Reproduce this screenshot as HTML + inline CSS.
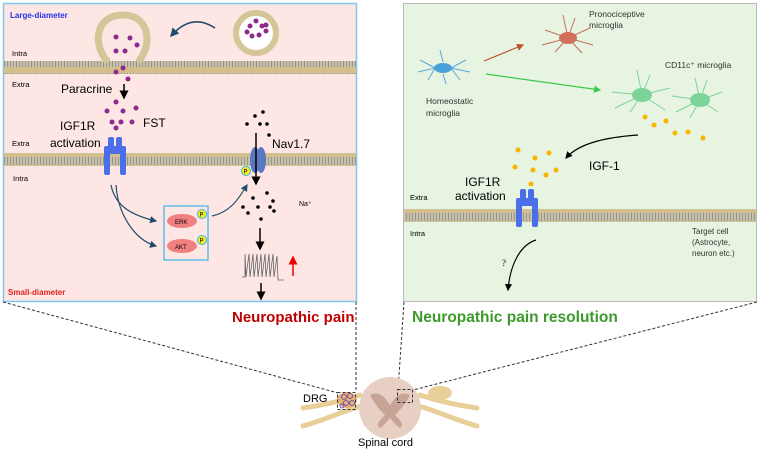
<!DOCTYPE html>
<html><head><meta charset="utf-8"><style>
html,body{margin:0;padding:0;background:#fff;}
svg{display:block;font-family:"Liberation Sans",sans-serif;}
</style></head><body>
<svg width="760" height="451" viewBox="0 0 760 451" xmlns="http://www.w3.org/2000/svg">
<defs>
<pattern id="mem" width="3" height="14" patternUnits="userSpaceOnUse">
<rect width="3" height="14" fill="#c9c2a8"/>
<circle cx="1.5" cy="1.5" r="1.4" fill="#d8bf80"/>
<circle cx="1.5" cy="12.5" r="1.4" fill="#d8bf80"/>
<line x1="1.5" y1="3" x2="1.5" y2="11" stroke="#8a8a8a" stroke-width="0.8"/>
</pattern>
<marker id="ab" markerWidth="6" markerHeight="6" refX="5" refY="3" orient="auto"><path d="M0,0 L6,3 L0,6z" fill="#000"/></marker>
<marker id="at" markerWidth="6" markerHeight="6" refX="5" refY="3" orient="auto"><path d="M0,0 L6,3 L0,6z" fill="#1f4e6b"/></marker>
<marker id="ar" markerWidth="6" markerHeight="6" refX="5" refY="3" orient="auto"><path d="M0,0 L6,3 L0,6z" fill="#c0502a"/></marker>
<marker id="ag" markerWidth="6" markerHeight="6" refX="5" refY="3" orient="auto"><path d="M0,0 L6,3 L0,6z" fill="#3ec84a"/></marker>
<marker id="rr" markerWidth="6" markerHeight="6" refX="5" refY="3" orient="auto"><path d="M0,0 L6,3 L0,6z" fill="#e00"/></marker>
</defs>

<rect x="3.5" y="3.5" width="353" height="298" fill="#fde6e4" stroke="#7cc8ee" stroke-width="1.5"/>
<rect x="4" y="61" width="352" height="13" fill="url(#mem)"/>
<rect x="4" y="153" width="352" height="13" fill="url(#mem)"/>
<text x="10" y="18" font-size="8" font-weight="bold" fill="#2233ee">Large-diameter</text>
<text x="8" y="295" font-size="8" font-weight="bold" fill="#e02020">Small-diameter</text>
<text x="12" y="56" font-size="7.5">Intra</text>
<text x="12" y="87" font-size="7.5">Extra</text>
<text x="12" y="146" font-size="7.5">Extra</text>
<text x="13" y="181" font-size="7.5">Intra</text>
<path d="M108,62 C92,45 95,15 123,15 C150,15 153,45 138,62" fill="none" stroke="#d4c698" stroke-width="7"/>
<circle cx="256" cy="33" r="20" fill="#fff" stroke="#d4c698" stroke-width="6"/>
<g fill="#8e2a8e">
<circle cx="250" cy="26" r="2.5"/><circle cx="256" cy="21" r="2.5"/><circle cx="262" cy="26" r="2.5"/><circle cx="266" cy="31" r="2.5"/><circle cx="247" cy="32" r="2.5"/><circle cx="252" cy="36" r="2.5"/><circle cx="259" cy="35" r="2.5"/><circle cx="266" cy="25" r="2.5"/>
<circle cx="116" cy="37" r="2.5"/><circle cx="130" cy="38" r="2.5"/><circle cx="137" cy="45" r="2.5"/><circle cx="116" cy="51" r="2.5"/><circle cx="125" cy="51" r="2.5"/><circle cx="116" cy="72" r="2.5"/><circle cx="123" cy="68" r="2.5"/><circle cx="128" cy="79" r="2.5"/>
<circle cx="116" cy="102" r="2.5"/><circle cx="107" cy="111" r="2.5"/><circle cx="123" cy="111" r="2.5"/><circle cx="136" cy="108" r="2.5"/><circle cx="112" cy="122" r="2.5"/><circle cx="121" cy="122" r="2.5"/><circle cx="132" cy="122" r="2.5"/><circle cx="116" cy="128" r="2.5"/>
</g>
<path d="M215,28 C200,18 185,20 171,36" fill="none" stroke="#1f4e6b" stroke-width="1.5" marker-end="url(#at)"/>
<text x="61" y="93" font-size="12">Paracrine</text>
<line x1="124" y1="84" x2="124" y2="98" stroke="#000" stroke-width="1.5" marker-end="url(#ab)"/>
<text x="143" y="127" font-size="12">FST</text>
<text x="60" y="130" font-size="12">IGF1R</text>
<text x="50" y="147" font-size="12">activation</text>
<g fill="#4a6fe8">
<rect x="108" y="137" width="6" height="15" rx="2"/><rect x="116" y="137" width="6" height="15" rx="2"/>
<rect x="104" y="146" width="22" height="8" rx="2"/>
<rect x="104" y="150" width="6" height="25" rx="2"/><rect x="120" y="150" width="6" height="25" rx="2"/>
</g>
<path d="M111,185 C115,205 130,215 156,221" fill="none" stroke="#1f4e6b" stroke-width="1.2" marker-end="url(#at)"/>
<path d="M116,185 C118,215 135,240 156,246" fill="none" stroke="#1f4e6b" stroke-width="1.2" marker-end="url(#at)"/>
<rect x="164" y="206" width="44" height="54" fill="none" stroke="#39b5ea" stroke-width="1.2"/>
<ellipse cx="182" cy="221" rx="15" ry="7" fill="#f08080"/>
<ellipse cx="182" cy="246" rx="15" ry="7" fill="#f08080"/>
<text x="175" y="224" font-size="6">ERK</text>
<text x="175" y="249" font-size="6">AKT</text>
<circle cx="202" cy="214" r="4.5" fill="#f2ee20" stroke="#39b5ea"/><text x="199.5" y="216.5" font-size="6">P</text>
<circle cx="202" cy="240" r="4.5" fill="#f2ee20" stroke="#39b5ea"/><text x="199.5" y="242.5" font-size="6">P</text>
<path d="M212,216 C230,212 238,200 247,185" fill="none" stroke="#1f4e6b" stroke-width="1.2" marker-end="url(#at)"/>
<ellipse cx="255" cy="160" rx="5" ry="13" fill="#5a78c0"/><ellipse cx="261" cy="160" rx="5" ry="13" fill="#5a78c0"/>
<circle cx="246" cy="171" r="4.5" fill="#f2ee20" stroke="#39b5ea"/><text x="243.5" y="173.5" font-size="6">P</text>
<text x="272" y="148" font-size="12">Nav1.7</text>
<line x1="256" y1="133" x2="256" y2="184" stroke="#000" stroke-width="1.5" marker-end="url(#ab)"/>
<g fill="#000">
<circle cx="255" cy="116" r="1.8"/><circle cx="263" cy="112" r="1.8"/><circle cx="247" cy="124" r="1.8"/><circle cx="260" cy="124" r="1.8"/><circle cx="267" cy="124" r="1.8"/><circle cx="269" cy="135" r="1.8"/>
<circle cx="253" cy="198" r="1.8"/><circle cx="267" cy="193" r="1.8"/><circle cx="273" cy="201" r="1.8"/><circle cx="243" cy="207" r="1.8"/><circle cx="258" cy="207" r="1.8"/><circle cx="270" cy="207" r="1.8"/><circle cx="274" cy="211" r="1.8"/><circle cx="261" cy="219" r="1.8"/><circle cx="248" cy="213" r="1.8"/>
</g>
<text x="299" y="206" font-size="7">Na⁺</text>
<line x1="260" y1="228" x2="260" y2="249" stroke="#000" stroke-width="1.5" marker-end="url(#ab)"/>
<path d="M242,277 L245,277 L245,254 L246,277 L249,254 L250,277 L253,254 L254,277 L257,254 L258,277 L261,254 L262,277 L265,254 L266,277 L269,254 L270,277 L273,254 L274,277 L277,256 L278,280 L284,280" fill="none" stroke="#666" stroke-width="0.8"/>
<line x1="293" y1="276" x2="293" y2="257" stroke="#e00" stroke-width="1.5" marker-end="url(#rr)"/>
<line x1="261" y1="283" x2="261" y2="299" stroke="#000" stroke-width="1.5" marker-end="url(#ab)"/>

<rect x="403.5" y="3.5" width="353" height="298" fill="#e6f4e1" stroke="#bbbbbb" stroke-width="1"/>
<rect x="404" y="209" width="352" height="13" fill="url(#mem)"/>
<text x="410" y="200" font-size="7.5">Extra</text>
<text x="410" y="236" font-size="7.5">Intra</text>
<g stroke="#5aa8d8" stroke-width="1" fill="none">
<path d="M435,68 L420,60 M435,68 L418,72 M435,68 L428,80 M451,68 L466,60 M451,68 L470,72 M451,68 L460,80 M443,62 L440,50 M443,74 L446,84"/></g>
<ellipse cx="443" cy="68" rx="9" ry="5" fill="#4aa0d8"/>
<g stroke="#c8705a" stroke-width="1" fill="none">
<path d="M568,38 L545,30 M568,38 L542,45 M568,38 L555,52 M568,38 L590,28 M568,38 L593,45 M568,38 L582,53 M568,38 L563,15 M568,38 L575,18"/></g>
<ellipse cx="568" cy="38" rx="9" ry="6" fill="#d0705a"/>
<g stroke="#7cd49a" stroke-width="1" fill="none">
<path d="M642,95 L612,92 M642,95 L615,108 M642,95 L630,112 M642,95 L670,88 M642,95 L665,110 M642,95 L637,70 M642,95 L650,75 M700,100 L672,96 M700,100 L676,112 M700,100 L690,118 M700,100 L722,92 M700,100 L718,112 M700,100 L695,78 M700,100 L707,80"/></g>
<ellipse cx="642" cy="95" rx="10" ry="7" fill="#7cd49a"/><ellipse cx="700" cy="100" rx="10" ry="7" fill="#7cd49a"/>
<line x1="484" y1="61" x2="523" y2="45" stroke="#c0502a" stroke-width="1.2" marker-end="url(#ar)"/>
<line x1="486" y1="74" x2="600" y2="90" stroke="#3ec84a" stroke-width="1.2" marker-end="url(#ag)"/>
<text x="589" y="17" font-size="8.5" fill="#333">Pronociceptive</text>
<text x="589" y="28" font-size="8.5" fill="#333">microglia</text>
<text x="665" y="68" font-size="8.5" fill="#333">CD11c⁺ microglia</text>
<text x="426" y="104" font-size="8.5" fill="#333">Homeostatic</text>
<text x="426" y="116" font-size="8.5" fill="#333">microglia</text>
<g fill="#f8b400">
<circle cx="645" cy="117" r="2.5"/><circle cx="654" cy="125" r="2.5"/><circle cx="666" cy="121" r="2.5"/><circle cx="675" cy="133" r="2.5"/><circle cx="688" cy="132" r="2.5"/><circle cx="703" cy="138" r="2.5"/>
<circle cx="518" cy="150" r="2.5"/><circle cx="535" cy="158" r="2.5"/><circle cx="549" cy="153" r="2.5"/><circle cx="515" cy="167" r="2.5"/><circle cx="533" cy="170" r="2.5"/><circle cx="546" cy="175" r="2.5"/><circle cx="556" cy="170" r="2.5"/><circle cx="531" cy="184" r="2.5"/>
</g>
<path d="M638,135 C610,137 580,142 566,158" fill="none" stroke="#000" stroke-width="1.2" marker-end="url(#ab)"/>
<text x="589" y="170" font-size="12">IGF-1</text>
<text x="465" y="186" font-size="12">IGF1R</text>
<text x="455" y="200" font-size="12">activation</text>
<g fill="#4a6fe8">
<rect x="520" y="189" width="6" height="15" rx="2"/><rect x="528" y="189" width="6" height="15" rx="2"/>
<rect x="516" y="198" width="22" height="8" rx="2"/>
<rect x="516" y="202" width="6" height="25" rx="2"/><rect x="532" y="202" width="6" height="25" rx="2"/>
</g>
<text x="692" y="234" font-size="8" fill="#333">Target cell</text>
<text x="692" y="245" font-size="8" fill="#333">(Astrocyte,</text>
<text x="692" y="256" font-size="8" fill="#333">neuron etc.)</text>
<path d="M536,240 C520,245 510,265 508,290" fill="none" stroke="#000" stroke-width="1.2" marker-end="url(#ab)"/>
<text x="502" y="266" font-size="9" font-family="Liberation Serif,serif">?</text>

<text x="232" y="322" font-size="15" font-weight="bold" fill="#c00000">Neuropathic pain</text>
<text x="412" y="322" font-size="15.5" font-weight="bold" fill="#3b9a2a">Neuropathic pain resolution</text>

<g stroke="#333" stroke-width="1" stroke-dasharray="3,2" fill="none">
<line x1="3" y1="302" x2="338" y2="393"/>
<line x1="356" y1="302" x2="356" y2="392"/>
<line x1="404" y1="302" x2="398" y2="390"/>
<line x1="757" y1="302" x2="413" y2="390"/>
</g>
<g stroke="#e8cf98" stroke-width="5" fill="none" stroke-linecap="round">
<path d="M303,408 C325,405 345,400 360,395 M303,426 C325,420 345,410 365,405"/>
<path d="M477,408 C455,405 435,400 420,395 M477,426 C455,420 435,410 415,405"/>
</g>
<ellipse cx="347" cy="400" rx="10" ry="8" fill="#e8b070"/>
<ellipse cx="440" cy="393" rx="12" ry="7" fill="#e8cf98"/>
<circle cx="390" cy="408" r="31" fill="#e8cfc4"/>
<path d="M370,395 C380,390 385,398 390,405 C395,398 400,390 410,395 C405,405 400,410 395,415 C400,420 405,425 400,428 C395,425 392,420 390,418 C388,420 385,425 380,428 C375,425 380,420 385,415 C380,410 375,405 370,395z" fill="#c8a496"/>
<g fill="none" stroke="#5040c0" stroke-width="0.8">
<circle cx="344" cy="397" r="2.5"/><circle cx="350" cy="396" r="2.5"/><circle cx="346" cy="403" r="2.5"/><circle cx="352" cy="403" r="2.5"/><circle cx="342" cy="406" r="2"/>
</g>
<rect x="337.5" y="392.5" width="18" height="17" fill="none" stroke="#333" stroke-dasharray="3,2"/>
<rect x="397.5" y="389.5" width="15" height="13" fill="none" stroke="#333" stroke-dasharray="3,2"/>
<text x="303" y="402" font-size="11">DRG</text>
<text x="358" y="446" font-size="11">Spinal cord</text>
</svg>
</body></html>
